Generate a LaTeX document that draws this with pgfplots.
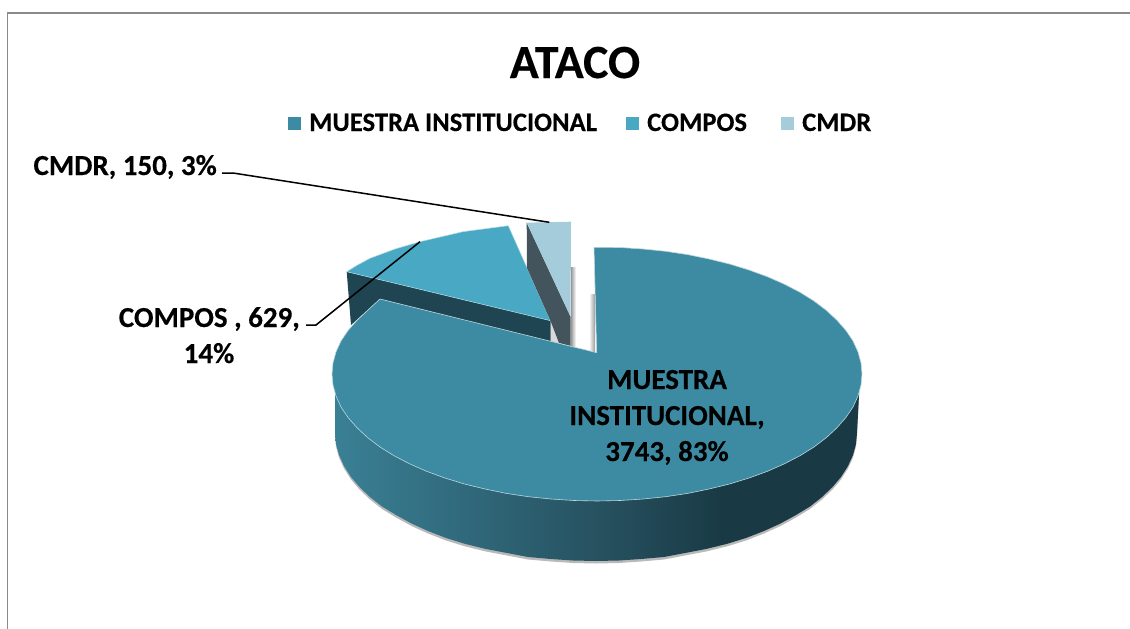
\documentclass[border=0pt]{standalone}
\usepackage{fontspec}
\setmainfont[BoldFeatures={FakeBold=0.35}]{Carlito}
\usepackage{pgfplots}
\usepackage{pgfplotstable}
\pgfplotsset{compat=1.18}

\definecolor{mainc}{HTML}{3D8BA3}
\definecolor{composc}{HTML}{49A8C3}
\definecolor{cmdrc}{HTML}{A5CCDA}
\definecolor{composd}{HTML}{1F4452}
\definecolor{cmdrd}{HTML}{44545C}
\definecolor{sa}{HTML}{3A8095}
\definecolor{sb}{HTML}{2F6678}
\definecolor{sc}{HTML}{254E5C}
\definecolor{sd}{HTML}{193A45}
\definecolor{framec}{HTML}{8A8A8A}

% 25bp = left edge of the path, 75bp = right edge
\pgfdeclarehorizontalshading{sidegrad}{100bp}{
  color(0bp)=(sa); color(25bp)=(sa); color(39bp)=(sb); color(52bp)=(sc);
  color(62bp)=(sd); color(100bp)=(sd)}

% everything in pixels of the reference, y running downwards
\pgfplotstableread{
x y
859 372
859 395
857 433
856 444
853 455
848 466
841 477
832.5 487
822 497
810 506.5
796 515
780.5 523.5
764 531
746 538
726.5 544
706 549
685 553
664 557
641 559
619 560.5
596 561
573 560.5
551 559
528 557
507 553
486 549
465.5 544
446 538
428 531
411.5 523.5
396 515
382 506.5
370 497
359.5 487
351 477
344 466
339 455
336 444
335 433
335 372
}\sidetbl

\pgfplotstableread{
x y
596.7 352.7
594 247.3
620 247.5
643 249
665.6 251.3
687.6 254.6
709 259
729.5 264
749 270
767.4 276.7
784.4 284.2
800 292.3
814 301
826.5 310.5
837 320.3
846 330.6
853 341
858 352
861 363
862 374
861 385
858 396
853 407
846 417.4
837 427.7
826.5 437.5
814 447
800 455.7
784.4 463.8
767.4 471.3
749 478
729.5 484
709 489
687.6 493.4
665.6 496.7
643 499
620 500.5
597 501
574 500.5
551 499
528.4 496.7
506.4 493.4
485 489
464.5 484
445 478
426.6 471.3
409.6 463.8
394 455.7
380 447
367.5 437.5
357 427.7
348 417.4
341 407
336 396
333 385
332 374
333 363
336 352
341 341
348 330.6
357 320.3
367.5 310.5
380 299
596.7 352.7
}\maintbl

\begin{document}
\begin{tikzpicture}
\begin{axis}[
    scale only axis,
    width=1130pt,
    height=629pt,
    xmin=0, xmax=1130,
    ymin=0, ymax=629,
    y dir=reverse,
    hide axis,
]
% frame
\addplot[framec, line width=1.5pt] coordinates {(7.5,629) (7.5,13) (1130,13)};

% soft shadows
\addplot[fill=gray!55, draw=none, yshift=-2.5pt] table {\sidetbl};
\addplot[left color=gray!80, right color=white, draw=none] coordinates {(571,267) (576,267) (576,346) (571,346)};
\addplot[left color=white, right color=gray!80, draw=none] coordinates {(589,294) (595,294) (595,352) (589,352)};
\addplot[fill=gray!30, draw=none] coordinates {(551,322) (560,322) (560,345) (551,343)};

% COMPOS slice
\addplot[fill=composd, draw=none] coordinates {
    (346.7,271.7) (550.5,320.5) (550.5,342) (380,299) (351,325)};
\addplot[fill=composc, draw=white!60!composc, line width=0.5pt] coordinates {
    (346.7,271.7) (357,265.3) (370,258.3) (395,249) (420,241.7) (463,231.7)
    (508.3,225.7) (550.5,320.7) (346.7,271.7)};

% CMDR slice
\addplot[fill=cmdrd, draw=none] coordinates {
    (526.7,222.7) (570.5,316.5) (570.5,346) (559,343) (551,322) (527,268)};
\addplot[fill=cmdrc, draw=none] coordinates {
    (526.7,222.7) (571,221.7) (570.5,316.7)};

% main slice
\addplot[shading=sidegrad, draw=none] table {\sidetbl};
\addplot[fill=mainc, draw=white!65!mainc, line width=0.6pt] table {\maintbl};

% leader lines
\addplot[black, line width=1.5pt] coordinates {(222,173) (233,173) (549.3,222.3)};
\addplot[black, line width=1.5pt] coordinates {(306,325) (316,325) (420,241.7)};

% legend keys
\addplot[fill=mainc, draw=none] coordinates {(288,117) (301,117) (301,130) (288,130)};
\addplot[fill=composc, draw=none] coordinates {(626,117) (639,117) (639,130) (626,130)};
\addplot[fill=cmdrc, draw=none] coordinates {(781,117) (794,117) (794,130) (781,130)};

% texts
\def\lab{\fontsize{26.6}{32}\selectfont\bfseries}
\def\dat{\fontsize{29}{34}\selectfont\bfseries}
\node[anchor=base, inner sep=0pt, font=\fontsize{47.6}{57}\selectfont\bfseries] at (axis cs:575,78) {ATACO};
\node[anchor=base west, inner sep=0pt, font=\lab] at (axis cs:309,131) {MUESTRA INSTITUCIONAL};
\node[anchor=base west, inner sep=0pt, font=\lab] at (axis cs:647,131) {COMPOS};
\node[anchor=base west, inner sep=0pt, font=\lab] at (axis cs:802,131) {CMDR};
\node[anchor=base east, inner sep=0pt, font=\dat] at (axis cs:217,175) {CMDR, 150, 3\%};
\node[anchor=base east, inner sep=0pt, font=\dat] at (axis cs:300,327) {COMPOS , 629,};
\node[anchor=base, inner sep=0pt, font=\dat] at (axis cs:209,363) {14\%};
\node[anchor=base, inner sep=0pt, font=\dat] at (axis cs:667,389) {MUESTRA};
\node[anchor=base, inner sep=0pt, font=\dat] at (axis cs:667,425) {INSTITUCIONAL,};
\node[anchor=base, inner sep=0pt, font=\dat] at (axis cs:667,461) {3743, 83\%};
\end{axis}
\path (0,0) rectangle (1130pt,629pt);
\end{tikzpicture}
\end{document}
